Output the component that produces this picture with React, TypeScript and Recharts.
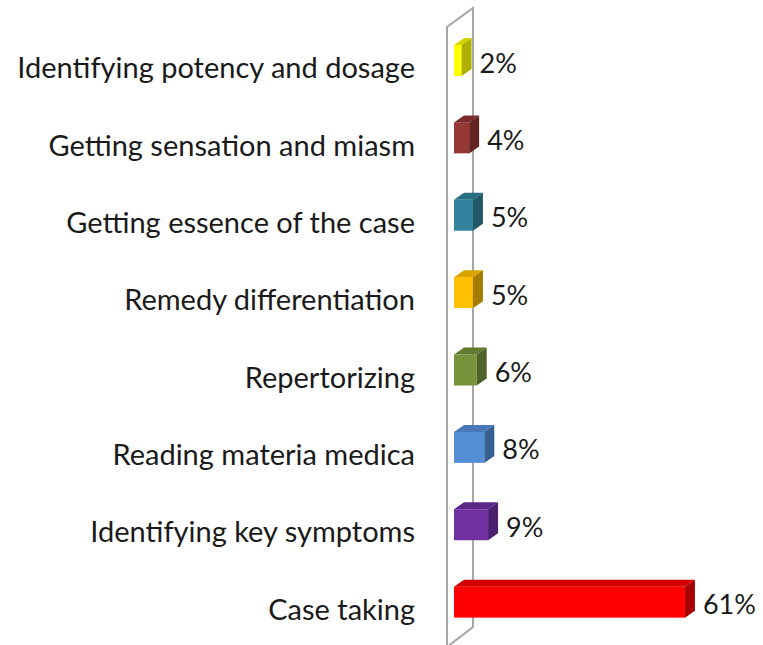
import React from 'react';
import { BarChart, Bar, XAxis, YAxis, ReferenceLine, LabelList } from 'recharts';

const categories = [
  'Identifying potency and dosage',
  'Getting sensation and miasm',
  'Getting essence of the case',
  'Remedy differentiation',
  'Repertorizing',
  'Reading materia medica',
  'Identifying key symptoms',
  'Case taking',
];
const percents = [2, 4, 5, 5, 6, 8, 9, 61];

const frontColors = ['#ffff00', '#953735', '#31849b', '#ffc000', '#77933c', '#558ed5', '#7030a0', '#ff0000'];
const topColors = ['#d8d800', '#7a2c2a', '#286f82', '#d9a300', '#627a30', '#4878b5', '#5c2788', '#d40000'];
const sideColors = ['#b0b000', '#632422', '#215968', '#a67c00', '#4f6228', '#376092', '#4a1f6e', '#a80000'];

const data = categories.map((name, i) => ({ name, value: percents[i] }));

const DX = 10;
const DY = 7;

const Bar3D = (props: any) => {
  const { x, y, width, height, index } = props;
  const w = Math.max(width, 0);
  return (
    <g>
      <rect x={x} y={y} width={w} height={height} fill={frontColors[index]} />
      <polygon
        points={`${x},${y} ${x + DX},${y - DY} ${x + w + DX},${y - DY} ${x + w},${y}`}
        fill={topColors[index]}
      />
      <polygon
        points={`${x + w},${y} ${x + w + DX},${y - DY} ${x + w + DX},${y + height - DY} ${x + w},${y + height}`}
        fill={sideColors[index]}
      />
    </g>
  );
};

const Wall = (props: any) => {
  const { x1, y1, y2 } = props;
  const top = Math.min(y1, y2);
  const bottom = Math.max(y1, y2);
  const lx = x1 - 7;
  const rx = x1 + 19;
  const d = `M${lx},${bottom + 6} L${lx},${top + 5} L${rx},${top - 14} L${rx},${bottom - 14} Z`;
  return <path d={d} fill="#ffffff" stroke="#a6a6a6" strokeWidth={2} />;
};

const CategoryTick = (props: any) => {
  const { y, payload } = props;
  return (
    <text
      x={415}
      y={y + 17.5}
      textAnchor="end"
      fontFamily="Lato, 'Open Sans', sans-serif"
      fontSize={29}
      fill="#1a1a1a"
    >
      {payload.value}
    </text>
  );
};

const ValueLabel = (props: any) => {
  const { x, y, width, height, value } = props;
  return (
    <text
      x={x + width + DX + 8}
      y={y + height / 2 + 12}
      textAnchor="start"
      fontFamily="Lato, 'Open Sans', sans-serif"
      fontSize={27}
      fill="#1a1a1a"
    >
      {`${value}%`}
    </text>
  );
};

export default function App() {
  return (
    <div style={{ position: 'absolute', left: 0, top: 0, background: '#fff' }}>
      <BarChart
        width={763}
        height={645}
        data={data}
        layout="vertical"
        margin={{ top: 22, right: 44, bottom: 4, left: 0 }}
      >
        <XAxis type="number" domain={[0, 70]} hide />
        <YAxis
          type="category"
          dataKey="name"
          width={454}
          axisLine={false}
          tickLine={false}
          tick={<CategoryTick />}
          interval={0}
        />
        <ReferenceLine x={0} shape={<Wall />} ifOverflow="visible" {...({ zIndex: -100 } as any)} />
        <Bar dataKey="value" barSize={31} shape={<Bar3D />} isAnimationActive={false}>
          <LabelList dataKey="value" content={<ValueLabel />} />
        </Bar>
      </BarChart>
    </div>
  );
}
